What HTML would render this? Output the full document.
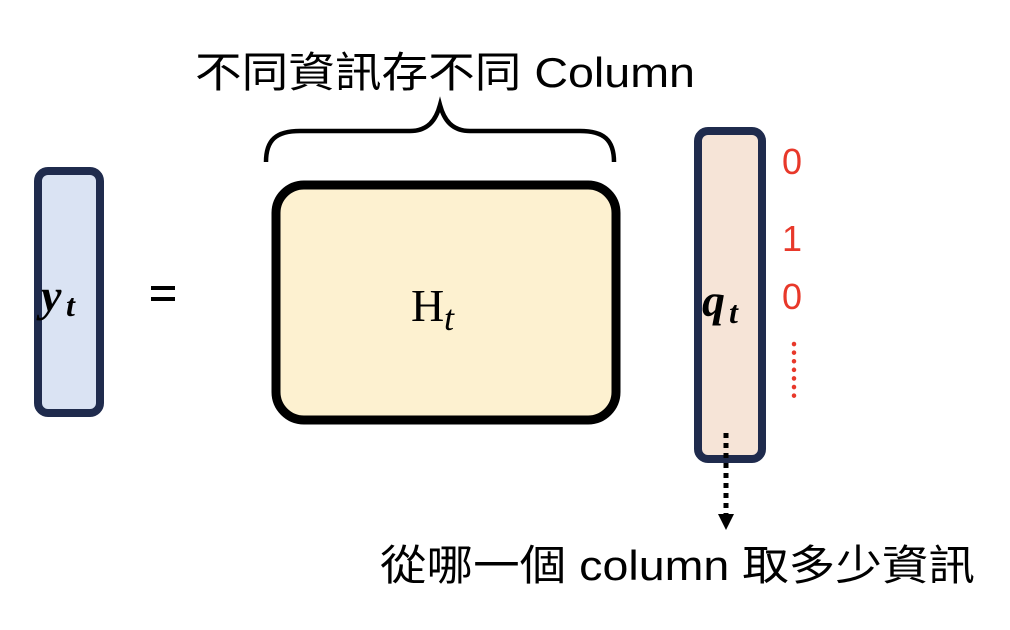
<!DOCTYPE html>
<html><head><meta charset="utf-8"><style>
html,body{margin:0;padding:0;background:#fff;width:1010px;height:630px;overflow:hidden}
</style></head><body>
<svg width="1010" height="630" viewBox="0 0 1010 630" xmlns="http://www.w3.org/2000/svg">
<text x="195" y="87" font-family="'Liberation Sans','Noto Sans CJK TC',sans-serif" font-size="42" textLength="500" lengthAdjust="spacingAndGlyphs" fill="#000">不同資訊存不同 Column</text>
<path d="M266,162 C266,140 276,131 300,131 L410,131 C428,131 436,120 440,105 C444,120 452,131 470,131 L580,131 C604,131 614,140 614,162" fill="none" stroke="#000" stroke-width="4.5"/>
<rect x="38" y="171" width="62" height="242" rx="10" fill="#dae3f3" stroke="#1f2b4d" stroke-width="8"/>
<text x="41" y="311" font-family="'Liberation Serif',serif" font-size="46" font-style="italic" font-weight="bold">y</text>
<text x="66" y="316" font-family="'Liberation Serif',serif" font-size="32" font-style="italic" font-weight="bold">t</text>
<rect x="151" y="286" width="24" height="4" fill="#000"/>
<rect x="151" y="297" width="24" height="4" fill="#000"/>
<rect x="276" y="185" width="340" height="235" rx="28" fill="#fdf1d0" stroke="#000" stroke-width="9"/>
<text x="411" y="321" font-family="'Liberation Serif',serif" font-size="46">H</text>
<text x="444" y="330" font-family="'Liberation Serif',serif" font-size="36" font-style="italic">t</text>
<rect x="698" y="131" width="64" height="328" rx="10" fill="#f6e4d7" stroke="#1f2b4d" stroke-width="8"/>
<text x="702" y="316" font-family="'Liberation Serif',serif" font-size="46" font-style="italic" font-weight="bold">q</text>
<text x="729" y="323" font-family="'Liberation Serif',serif" font-size="32" font-style="italic" font-weight="bold">t</text>
<g font-family="'Liberation Sans',sans-serif" font-size="36" fill="#e8382a" text-anchor="middle">
<text x="792" y="174">0</text><text x="792" y="251">1</text><text x="792" y="309">0</text></g>
<line x1="794" y1="344" x2="794" y2="398" stroke="#e8382a" stroke-width="4.5" stroke-linecap="round" stroke-dasharray="0.1,8.5"/>
<line x1="726" y1="433" x2="726" y2="516" stroke="#000" stroke-width="5" stroke-dasharray="5,5"/>
<polygon points="718,514 734,514 726,530" fill="#000"/>
<text x="380" y="580" font-family="'Liberation Sans','Noto Sans CJK TC',sans-serif" font-size="42" textLength="595" lengthAdjust="spacingAndGlyphs" fill="#000">從哪一個 column 取多少資訊</text>
</svg>
</body></html>
